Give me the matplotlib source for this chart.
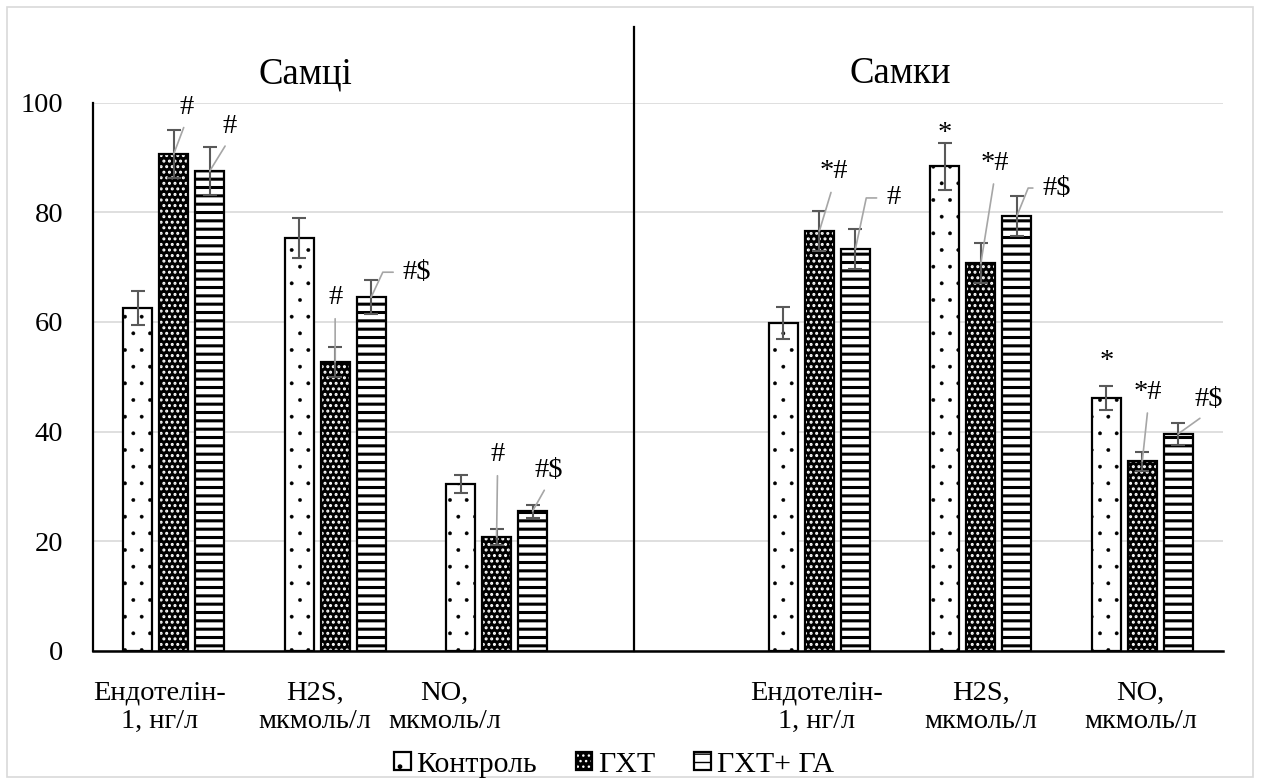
import matplotlib
matplotlib.use("Agg")
import matplotlib.pyplot as plt
import matplotlib.transforms as mtransforms
from matplotlib.patches import Rectangle
from matplotlib.lines import Line2D

plt.rcParams['font.family'] = ['Liberation Serif', 'DejaVu Serif']

# ---- data -------------------------------------------------------------
groups = ["Самці", "Самки"]
categories = ["Ендотелін-\n1, нг/л", "H2S,\nмкмоль/л", "NO,\nмкмоль/л"]
series = ["Контроль", "ГХТ", "ГХТ+ ГА"]

male_control = [62.5, 75.3, 30.4]
male_hht = [90.6, 52.7, 20.8]
male_hht_ga = [87.5, 64.5, 25.5]

female_control = [59.8, 88.4, 46.1]
female_hht = [76.6, 70.7, 34.6]
female_hht_ga = [73.3, 79.3, 39.6]

male_control_err = [3.1, 3.7, 1.6]
male_hht_err = [4.4, 2.7, 1.4]
male_hht_ga_err = [4.3, 3.1, 1.2]

female_control_err = [3.0, 4.3, 2.2]
female_hht_err = [3.7, 3.6, 1.7]
female_hht_ga_err = [3.6, 3.7, 2.0]

# significance marks: [category][series]
male_marks = [["", "#", "#"], ["", "#", "#$"], ["", "#", "#$"]]
female_marks = [["", "*#", "#"], ["*", "*#", "#$"], ["*", "*#", "#$"]]

y_ticks = [0, 20, 40, 60, 80, 100]

# ---- layout / style -----------------------------------------------------
W, H = 1261, 784
fig = plt.figure(figsize=(W / 100, H / 100), dpi=100)
ax = fig.add_axes([93 / W, 133 / H, 1130 / W, 548.5 / H])

group_start = [0, 4]          # first category slot of each group (slot 3 left empty)
bar_w = 0.18
bar_step = 0.223
font_main = 20.5

values = [[male_control, male_hht, male_hht_ga],
          [female_control, female_hht, female_hht_ga]]
errors = [[male_control_err, male_hht_err, male_hht_ga_err],
          [female_control_err, female_hht_err, female_hht_ga_err]]
marks = [male_marks, female_marks]

err_color = '#595959'
leader_color = '#a6a6a6'


def hatched(container, lw):
    for p in container:
        if hasattr(p, "set_hatch_linewidth"):
            p.set_hatch_linewidth(lw)


handles = [None, None, None]
for g in range(2):
    xs_center = [group_start[g] + i for i in range(len(categories))]
    for s in range(3):
        xs = [c + (s - 1) * bar_step for c in xs_center]
        vals = values[g][s]
        if s == 0:
            with plt.rc_context({'hatch.linewidth': 0.3}):
                b = ax.bar(xs, vals, width=bar_w, color='white', edgecolor='black',
                           linewidth=1.6, hatch='.', zorder=2)
            hatched(b, 0.3)
            handles[0] = b[0]
        elif s == 1:
            with plt.rc_context({'hatch.linewidth': 1.4}):
                b = ax.bar(xs, vals, width=bar_w, color='black', edgecolor='white',
                           linewidth=0, hatch='...', zorder=2)
            hatched(b, 1.4)
            o = ax.bar(xs, vals, width=bar_w, fill=False, edgecolor='black',
                       linewidth=1.6, zorder=3)
            handles[1] = (b[0], o[0])
        else:
            with plt.rc_context({'hatch.linewidth': 2.2}):
                b = ax.bar(xs, vals, width=bar_w, color='white', edgecolor='black',
                           linewidth=1.6, hatch='--', zorder=2)
            hatched(b, 2.2)
            handles[2] = b[0]
        ax.errorbar(xs, vals, yerr=errors[g][s], fmt='none', ecolor=err_color,
                    elinewidth=1.5, capsize=5, capthick=1.5, zorder=4)

# label placement for significance marks: (dx px, dy px, leader kind, angle)
mark_layout = {
    (0, 0, 1): (13, 47, "line", None),
    (0, 0, 2): (20, 45, "line", None),
    (0, 1, 1): (0, 64, "line", None),
    (0, 1, 2): (46, 25, "shelf", 65),
    (0, 2, 1): (1, 82, "line", None),
    (0, 2, 2): (16, 41, "line", None),
    (1, 0, 1): (14, 59, "line", None),
    (1, 0, 2): (38, 51, "shelf", 78),
    (1, 1, 0): (0, 33, None, None),
    (1, 1, 1): (14, 100, "line", None),
    (1, 1, 2): (40, 28, "shelf", 68),
    (1, 2, 0): (0, 37, None, None),
    (1, 2, 1): (6, 69, "line", None),
    (1, 2, 2): (30, 34, "line", None),
}

for (g, c, s), (dx, dy, kind, ang) in mark_layout.items():
    text = marks[g][c][s]
    if not text:
        continue
    x = group_start[g] + c + (s - 1) * bar_step
    y = values[g][s][c]
    kw = dict(xy=(x, y), xytext=(dx, dy), textcoords='offset pixels',
              ha='center', va='center', fontsize=font_main, zorder=6)
    if kind == "line":
        kw['arrowprops'] = dict(arrowstyle='-', color=leader_color, lw=1.2,
                                shrinkA=4, shrinkB=0, relpos=(0.5, 0.0))
    elif kind == "shelf":
        kw['arrowprops'] = dict(arrowstyle='-', color=leader_color, lw=1.2,
                                shrinkA=5, shrinkB=0, relpos=(0.0, 0.5),
                                connectionstyle=f"angle,angleA=180,angleB={ang},rad=0")
    ax.annotate(text, **kw)

# ---- axes styling -------------------------------------------------------
ax.set_xlim(-0.5, 6.5)
ax.set_ylim(0, 100)
ax.set_yticks(y_ticks)
ax.set_yticklabels([str(v) for v in y_ticks])
ax.set_xticks([])
ax.tick_params(axis='y', length=0, pad=21.6, labelsize=font_main)
ax.yaxis.grid(True, color='#d9d9d9', lw=1.2)
ax.set_axisbelow(True)
for side in ('top', 'right'):
    ax.spines[side].set_visible(False)
ax.spines['left'].set_linewidth(1.6)
ax.spines['bottom'].set_linewidth(1.8)
ax.spines['left'].set_color('black')
ax.spines['bottom'].set_color('black')

# category labels under each group
label_shift = [[-14, -20, -52], [-3, 0, -2]]
xlab_trans = mtransforms.blended_transform_factory(ax.transData, ax.transAxes)
for g in range(2):
    for c, name in enumerate(categories):
        tr = mtransforms.offset_copy(xlab_trans, fig=fig, x=label_shift[g][c], y=0, units='dots')
        ax.text(group_start[g] + c, -0.103, name, transform=tr, ha='center', va='center',
                fontsize=font_main, linespacing=1.2, multialignment='center')

# group titles and divider
title_trans = mtransforms.blended_transform_factory(ax.transData, fig.transFigure)
title_x = [0.814, 4.498]
for g in range(2):
    ax.text(title_x[g], 1 - 74 / H, groups[g], transform=title_trans,
            ha='center', va='center', fontsize=26.5)

divider_x = 2.851
ax.add_line(Line2D([divider_x, divider_x], [133 / H, 1 - 27 / H], transform=title_trans,
                   color='black', lw=1.6, clip_on=False, zorder=5))

# legend
fig.legend(handles, series, loc='center', bbox_to_anchor=(614 / W, 1 - 765 / H),
           ncol=3, frameon=False, fontsize=21.5, handlelength=0.55,
           handleheight=0.55, handletextpad=0.2, columnspacing=1.3,
           borderaxespad=0, borderpad=0)

# outer frame
fig.add_artist(Rectangle((7 / W, 7 / H), (1253 - 7) / W, (777 - 7) / H,
                         transform=fig.transFigure, fill=False,
                         edgecolor='#d9d9d9', lw=1.2))

fig.savefig("out.png", dpi=100)
